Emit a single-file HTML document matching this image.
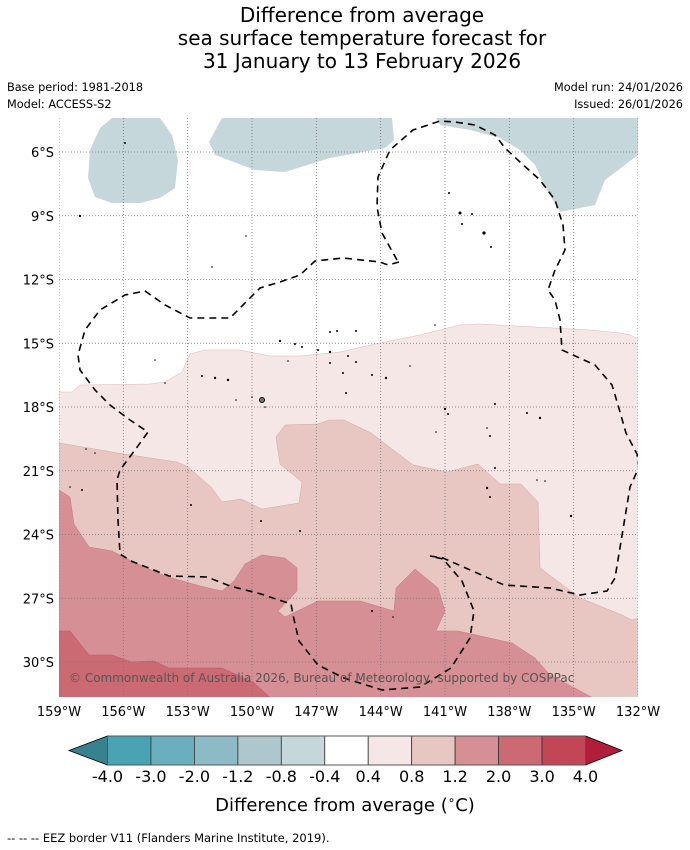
<!DOCTYPE html>
<html><head><meta charset="utf-8">
<style>
body{margin:0;background:#fff;font-family:"Liberation Sans","DejaVu Sans",sans-serif;}
svg{display:block}
text{font-family:"DejaVu Sans","Liberation Sans",sans-serif;fill:#000}
</style></head>
<body>
<svg id="chart" width="690" height="850" viewBox="0 0 690 850" xmlns="http://www.w3.org/2000/svg">
<rect width="690" height="850" fill="#fff"/>
<g font-size="20" text-anchor="middle">
<text x="362" y="22">Difference from average</text>
<text x="362" y="45">sea surface temperature forecast for</text>
<text x="362" y="68">31 January to 13 February 2026</text>
</g>
<text x="7" y="91" font-size="11.3">Base period: 1981-2018</text>
<text x="7" y="108" font-size="11.3">Model: ACCESS-S2</text>
<text x="683" y="91" font-size="11.3" text-anchor="end">Model run: 24/01/2026</text>
<text x="683" y="108" font-size="11.3" text-anchor="end">Issued: 26/01/2026</text>

<defs><clipPath id="mc"><rect x="59" y="118" width="579" height="579"/></clipPath></defs>
<g id="map" clip-path="url(#mc)">
<rect x="59" y="118" width="579" height="579" fill="#fff"/>
<path fill="#c6d7db" d="M100,128 L112,118 L160,118 L172,135 L178,160 L175,188 L160,198 L140,203 L112,203 L95,197 L88,178 L90,150 Z"/>
<path fill="#c6d7db" d="M222,118 L392,118 L394,140 L385,148 L330,158 L285,172 L255,170 L215,155 L209,142 Z"/>
<path fill="#c6d7db" d="M436,118 L638,118 L638,155 L605,180 L595,205 L560,212 L548,192 L535,165 L520,150 L500,138 L470,130 L440,125 Z"/>
<path fill="#f5e7e6" stroke="#d9b9b6" stroke-width="0.5" d="M59,392 L72,392 L80,385 L150,384 L165,382 L182,372 L190,354 L205,350 L240,350 L270,356 L300,356 L340,352 L380,343 L420,335 L440,330 L460,325 L480,324 L590,330 L620,333 L630,335 L640,340 L640,700 L59,700 Z"/>
<path fill="#e8c6c2" stroke="#d0a8a4" stroke-width="0.5" d="M59,443 L124,454 L177,462 L188,467 L211,487 L222,502 L241,499 L262,509 L299,503 L302,482 L280,464 L276,437 L285,425 L318,424 L329,420 L344,420 L371,433 L413,465 L447,472 L478,464 L500,484 L521,484 L538,502 L540,568 L580,598 L622,615 L632,620 L645,616 L645,700 L59,700 Z"/>
<path fill="#d68f95" stroke="#c07a80" stroke-width="0.5" d="M59,490 L70,497 L74,524 L89,547 L112,551 L131,561 L165,576 L200,586 L222,591 L234,581 L245,564 L262,555 L285,558 L297,568 L297,591 L278,611 L285,617 L318,601 L360,601 L394,611 L396,588 L415,569 L438,588 L445,611 L436,631 L458,631 L512,643 L535,658 L550,675 L569,685 L595,699 L59,700 Z"/>
<path fill="#cc6a74" stroke="#b85a64" stroke-width="0.5" d="M59,631 L70,631 L89,655 L112,655 L131,662 L154,661 L169,668 L222,668 L253,682 L272,699 L59,700 Z"/>
<g id="grid"></g>
<g fill="none" stroke="#000" stroke-width="1.6" stroke-dasharray="7,5">
<polyline points="399,262 388,265 380,262 343,258 315,261 300,275 280,282 260,288 240,308 230,318 190,318 165,305 145,291 125,295 100,310 85,330 78,355 80,370 95,390 110,405 130,420 148,432 135,450 120,470 117,480 118,520 120,554 131,561 169,576 207,577 230,586 261,594 291,604 293,615 299,641 318,665 344,678 382,690 420,687 451,668 470,638 474,611 462,581 443,559 430,556"/>
<polyline points="430,556 443,558 477,573 504,585 550,588 580,595 607,591 615,578 630,487 639,467 637,454 626,433 618,405 612,385 595,365 562,350 560,320 555,300 548,290 555,270 565,250 563,225 555,200 540,180 520,162 505,148 495,135 475,125 455,122 440,121 413,130 390,150 378,177 377,207 382,233 397,260"/>
</g>
<g fill="#000">
<circle cx="125" cy="143" r="1"/><circle cx="80" cy="216" r="1.2"/><circle cx="246" cy="236" r="0.8"/><circle cx="212" cy="267" r="0.8"/>
<circle cx="449" cy="193" r="1"/><circle cx="460" cy="213" r="1.5"/><circle cx="472" cy="214" r="1"/><circle cx="462" cy="224" r="1"/><circle cx="484" cy="233" r="1.6"/><circle cx="491" cy="247" r="1"/>
<circle cx="330" cy="332" r="1"/><circle cx="337" cy="331" r="1"/><circle cx="356" cy="331" r="1"/><circle cx="435" cy="325" r="0.8"/>
<circle cx="280" cy="341" r="1.2"/><circle cx="295" cy="344" r="1"/><circle cx="302" cy="347" r="1"/><circle cx="318" cy="350" r="1"/><circle cx="330" cy="352" r="1.2"/>
<circle cx="155" cy="360" r="0.8"/><circle cx="288" cy="361" r="0.8"/><circle cx="348" cy="356" r="1"/><circle cx="356" cy="362" r="1"/><circle cx="330" cy="363" r="1"/>
<circle cx="202" cy="376" r="1"/><circle cx="215" cy="378" r="1.2"/><circle cx="228" cy="380" r="1.2"/><circle cx="343" cy="373" r="1"/><circle cx="372" cy="375" r="1"/><circle cx="386" cy="378" r="1.2"/><circle cx="165" cy="383" r="0.8"/>
<circle cx="410" cy="366" r="0.8"/><circle cx="346" cy="393" r="1"/><circle cx="262" cy="400" r="2.5" fill="#777" stroke="#000"/><circle cx="252" cy="397" r="0.8"/><circle cx="236" cy="400" r="0.8"/>
<circle cx="445" cy="409" r="1.2"/><circle cx="448" cy="414" r="1"/><circle cx="495" cy="404" r="1"/><circle cx="527" cy="413" r="1"/><circle cx="540" cy="418" r="1.2"/>
<circle cx="265" cy="407" r="0.8"/><circle cx="487" cy="428" r="0.8"/><circle cx="490" cy="436" r="1"/><circle cx="436" cy="432" r="0.8"/>
<circle cx="82" cy="490" r="1"/><circle cx="191" cy="505" r="1"/><circle cx="261" cy="521" r="1"/><circle cx="300" cy="531" r="1"/>
<circle cx="487" cy="488" r="1.2"/><circle cx="490" cy="497" r="1"/><circle cx="495" cy="468" r="1"/><circle cx="571" cy="516" r="1.2"/><circle cx="537" cy="480" r="0.8"/><circle cx="545" cy="481" r="0.8"/>
<circle cx="70" cy="487" r="0.8"/><circle cx="95" cy="453" r="0.8"/><circle cx="86" cy="449" r="0.8"/><circle cx="372" cy="611" r="1"/><circle cx="393" cy="617" r="0.8"/>
</g>
<text x="69" y="682" font-size="12" style="fill:#555">© Commonwealth of Australia 2026, Bureau of Meteorology, supported by COSPPac</text>
</g>
<g id="latlabels" font-size="13" text-anchor="end"></g>
<g id="lonlabels" font-size="13" text-anchor="middle"></g>
<g id="cbar"></g>
<text x="345" y="811" font-size="18" text-anchor="middle">Difference from average (<tspan font-size="12" dy="-7">∘</tspan><tspan dy="7">C)</tspan></text>
<text x="7" y="842" font-size="11.5">--  --  -- EEZ border V11 (Flanders Marine Institute, 2019).</text>
</svg>
<script>
const lonTicks=[159,156,153,150,147,144,141,138,135,132];
const latTicks=[6,9,12,15,18,21,24,27,30];
const cbLevels=["-4.0","-3.0","-2.0","-1.2","-0.8","-0.4","0.4","0.8","1.2","2.0","3.0","4.0"];
const cbColors=["#49a3b2","#6aafbd","#8cbac5","#aec7cd","#c6d7db","#ffffff","#f5e7e6","#e8c6c2","#d68f95","#cc6a74","#c24756"];
const cbLow="#37828e", cbHigh="#b01e3a";
const NS="http://www.w3.org/2000/svg";
const X0=59,X1=638,Y0=118,Y1=697;
function xLon(w){return X0+(159-w)*(X1-X0)/27;}
function yLat(s){return 152+(s-6)*21.25;}
function mk(tag,attrs,parent){const e=document.createElementNS(NS,tag);for(const k in attrs)e.setAttribute(k,attrs[k]);parent.appendChild(e);return e;}
const grid=document.getElementById('grid');
const latG=document.getElementById('latlabels');
const lonG=document.getElementById('lonlabels');
lonTicks.forEach(w=>{
  const x=xLon(w);
  const l=mk('line',{x1:x,x2:x,y1:Y0,y2:Y1,stroke:'#777','stroke-width':0.8,'stroke-dasharray':'1,2'},grid);
  
  
  const t=mk('text',{x:x,y:716},lonG);t.textContent=w+'°W';
  
  
});
latTicks.forEach(s=>{
  const y=yLat(s);
  const l=mk('line',{x1:X0,x2:X1,y1:y,y2:y,stroke:'#777','stroke-width':0.8,'stroke-dasharray':'1,2'},grid);
  
  
  const t=mk('text',{x:54,y:y+5},latG);t.textContent=s+'°S';
  
  
});
const cb=document.getElementById('cbar');
const bx0=107.5,bx1=585.5,by0=736,by1=765,n=cbColors.length,bw=(bx1-bx0)/n;
const la=mk('polygon',{points:`${bx0},${by0} ${bx0},${by1} 69,${(by0+by1)/2}`,fill:cbLow,stroke:'#000','stroke-width':0.8},cb);


const ra=mk('polygon',{points:`${bx1},${by0} ${bx1},${by1} 622,${(by0+by1)/2}`,fill:cbHigh,stroke:'#000','stroke-width':0.8},cb);


cbColors.forEach((c,i)=>{
  const r=mk('rect',{x:bx0+i*bw,y:by0,width:bw,height:by1-by0,fill:c,stroke:'#333','stroke-width':0.8},cb);
  
  
});
mk('rect',{x:bx0,y:by0,width:bx1-bx0,height:by1-by0,fill:'none',stroke:'#555','stroke-width':1},cb);
cbLevels.forEach((v,i)=>{
  const t=mk('text',{x:bx0+i*bw,y:782,'font-size':16,'text-anchor':'middle'},cb);t.textContent=v;
  
  
});
</script>
</body></html>
